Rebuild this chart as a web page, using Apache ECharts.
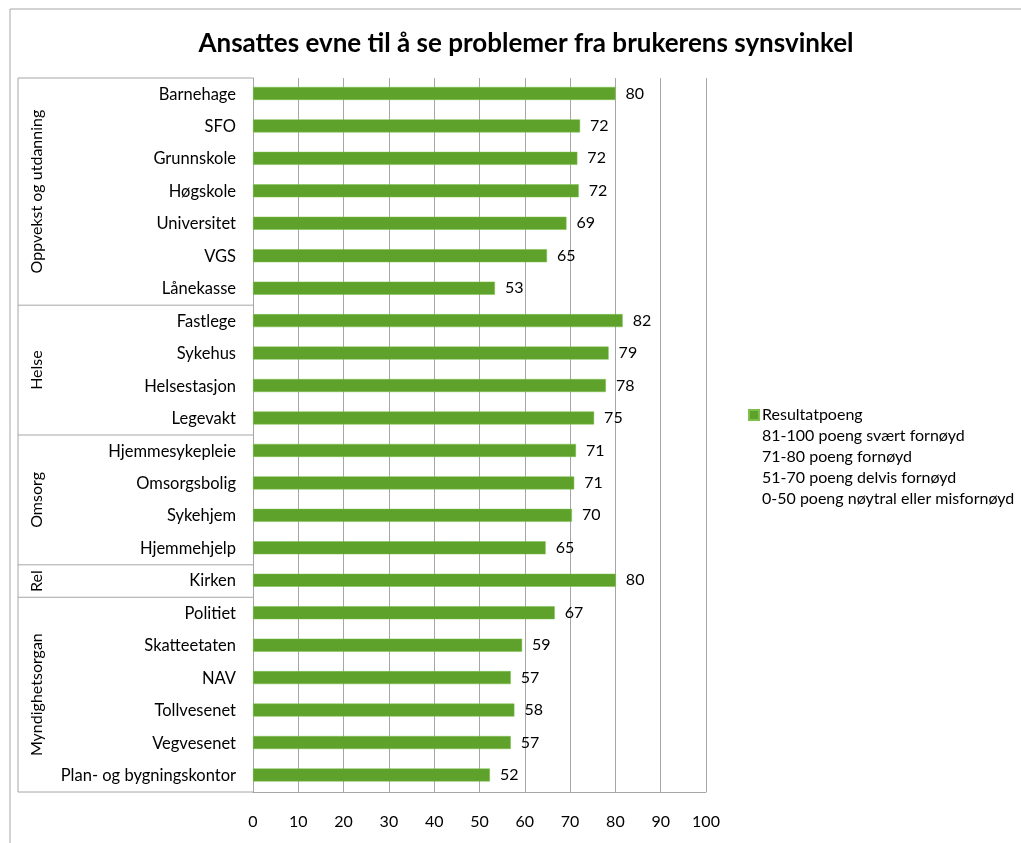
<!DOCTYPE html>
<html>
<head>
<meta charset="utf-8">
<script src="https://cdn.jsdelivr.net/npm/echarts@6/dist/echarts.min.js"></script>
<style>
html,body{margin:0;padding:0;background:#fff;}
#chart{width:1021px;height:843px;}
</style>
</head>
<body>
<div id="chart"></div>
<script>
const titleText = 'Ansattes evne til å se problemer fra brukerens synsvinkel';
const categories = ['Barnehage','SFO','Grunnskole','Høgskole','Universitet','VGS','Lånekasse',
  'Fastlege','Sykehus','Helsestasjon','Legevakt',
  'Hjemmesykepleie','Omsorgsbolig','Sykehjem','Hjemmehjelp',
  'Kirken',
  'Politiet','Skatteetaten','NAV','Tollvesenet','Vegvesenet','Plan- og bygningskontor'];
const values = [80.0,72.2,71.6,71.9,69.2,64.9,53.4,
  81.6,78.5,77.9,75.3,
  71.3,70.9,70.4,64.6,
  80.1,
  66.6,59.4,56.9,57.7,56.9,52.3];
const groupNames = ['Oppvekst og utdanning','Helse','Omsorg','Rel','Myndighetsorgan'];
const groupSizes = [7,4,4,1,6];
const seriesName = 'Resultatpoeng';
const legendNotes = ['81-100 poeng svært fornøyd','71-80 poeng fornøyd','51-70 poeng delvis fornøyd','0-50 poeng nøytral eller misfornøyd'];
const xMin = 0, xMax = 100, xStep = 10;

const FONT = 'Lato';
const FS = 16;
const GRAY = '#a6a6a6';
const GREEN = '#5ea22b';
const GRID = {left:253, right:315, top:78, bottom:51};

const chart = echarts.init(document.getElementById('chart'));

const series = [{
  name: seriesName,
  type: 'bar',
  data: values,
  barWidth: 13,
  itemStyle: {color: GREEN, borderColor: '#7cbf4a', borderWidth: 0.5},
  label: {
    show: true, position: 'right', distance: 10,
    color: '#000', fontFamily: FONT, fontSize: FS,
    formatter: p => Math.round(p.value)
  }
}].concat(legendNotes.map(n => ({name: n, type: 'bar', data: []})));

chart.setOption({
  animation: false,
  backgroundColor: '#fff',
  textStyle: {fontFamily: FONT},
  title: {
    text: titleText, left: 521, top: 26, textAlign: 'center',
    textStyle: {fontFamily: FONT, fontWeight: 'bold', fontSize: 26, color: '#000'}
  },
  legend: {
    orient: 'vertical', left: 743, top: 402,
    itemWidth: 10, itemHeight: 10, itemGap: 5,
    textStyle: {fontFamily: FONT, fontSize: FS, color: '#000', padding: [0,0,0,-2]},
    data: [{name: seriesName, icon: 'rect'}].concat(legendNotes.map(n => ({name: n, icon: 'none'}))),
    selectedMode: false
  },
  grid: GRID,
  xAxis: {
    type: 'value', min: xMin, max: xMax, interval: xStep,
    axisLine: {show: true, lineStyle: {color: GRAY}},
    axisTick: {show: false},
    splitLine: {show: true, lineStyle: {color: GRAY, width: 1}},
    axisLabel: {color: '#000', fontFamily: FONT, fontSize: FS, margin: 22}
  },
  yAxis: {
    type: 'category', data: categories, inverse: true,
    axisLine: {show: true, lineStyle: {color: GRAY}},
    axisTick: {show: false},
    axisLabel: {color: '#000', fontFamily: FONT, fontSize: 16.5, margin: 17}
  },
  series: series
});

// group brackets on the category axis, positioned from the axis scale
function drawGroups() {
  const pix = i => chart.convertToPixel({yAxisIndex: 0}, i);
  const band = pix(1) - pix(0);
  const top = pix(0) - band / 2;
  const bottom = pix(categories.length - 1) + band / 2;
  const xLeft = 18, xRight = GRID.left;
  const els = [];
  els.push({type:'rect', shape:{x:10, y:9, width:1200, height:1000}, style:{fill:'none', stroke:GRAY, lineWidth:1}, silent:true, z:-1});
  els.push({type:'line', shape:{x1:xLeft, y1:top, x2:xLeft, y2:bottom}, style:{stroke:GRAY, lineWidth:1}});
  els.push({type:'line', shape:{x1:xLeft, y1:top, x2:xRight, y2:top}, style:{stroke:GRAY, lineWidth:1}});
  let start = 0;
  groupSizes.forEach((sz, gi) => {
    const end = start + sz - 1;
    const yEnd = pix(end) + band / 2;
    const yStart = pix(start) - band / 2;
    els.push({type:'line', shape:{x1:xLeft, y1:yEnd, x2:xRight, y2:yEnd}, style:{stroke:GRAY, lineWidth:1}});
    els.push({type:'text', x: 37, y: (yStart + yEnd) / 2, rotation: Math.PI / 2,
      style:{text: groupNames[gi], fill:'#000', font: FS + 'px ' + FONT, textAlign:'center', textVerticalAlign:'middle'}});
    start = end + 1;
  });
  chart.setOption({graphic: els});
}
drawGroups();
</script>
</body>
</html>
